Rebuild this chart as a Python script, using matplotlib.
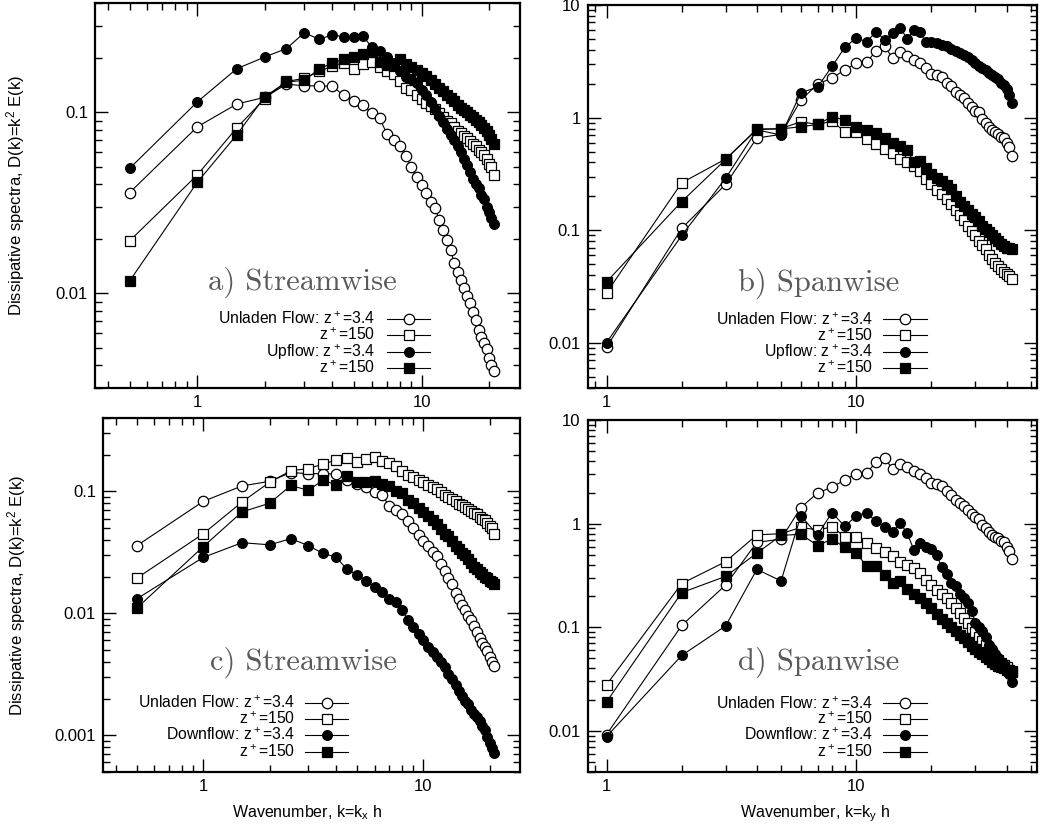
import numpy as np
import matplotlib
matplotlib.use('Agg')
import matplotlib.pyplot as plt
from matplotlib.ticker import LogLocator, FuncFormatter, NullFormatter

plt.rcParams['font.family'] = ['Liberation Sans', 'DejaVu Sans']
plt.rcParams['mathtext.default'] = 'regular'

# wavenumbers
kx = [0.5, 1.0, 1.5, 2.0, 2.5, 3.0, 3.5, 4.0, 4.5, 5.0, 5.5, 6.0, 6.5, 7.0,
      7.5, 8.0, 8.5, 9.0, 9.5, 10.0, 10.5, 11.0, 11.5, 12.0, 12.5, 13.0, 13.5,
      14.0, 14.5, 15.0, 15.5, 16.0, 16.5, 17.0, 17.5, 18.0, 18.5, 19.0, 19.5,
      20.0, 20.5, 21.0]
ky = [1, 2, 3, 4, 5, 6, 7, 8, 9, 10, 11, 12, 13, 14, 15, 16, 17, 18, 19, 20,
      21, 22, 23, 24, 25, 26, 27, 28, 29, 30, 31, 32, 33, 34, 35, 36, 37, 38,
      39, 40, 41, 42]

# streamwise spectra
unladen_x_34 = [0.036, 0.083, 0.111, 0.121, 0.143, 0.14, 0.14, 0.139, 0.124, 0.116,
                0.109, 0.099, 0.093, 0.076, 0.07, 0.065, 0.057, 0.05, 0.044, 0.0395,
                0.0357, 0.0318, 0.0295, 0.0253, 0.0223, 0.0196, 0.0173, 0.0146, 0.0131, 0.0118,
                0.0107, 0.0096, 0.0088, 0.0079, 0.0071, 0.0063, 0.0057, 0.0053, 0.0049, 0.0044,
                0.0040, 0.0037]
unladen_x_150 = [0.0195, 0.045, 0.082, 0.119, 0.148, 0.154, 0.168, 0.18, 0.188, 0.174,
                 0.184, 0.19, 0.178, 0.17, 0.162, 0.148, 0.137, 0.132, 0.125, 0.119,
                 0.113, 0.108, 0.104, 0.099, 0.094, 0.09, 0.087, 0.083, 0.079, 0.077,
                 0.074, 0.072, 0.069, 0.067, 0.065, 0.062, 0.06, 0.058, 0.055, 0.052,
                 0.05, 0.045]
up_x_34 = [0.049, 0.114, 0.174, 0.202, 0.225, 0.275, 0.253, 0.268, 0.261, 0.261,
           0.263, 0.228, 0.219, 0.201, 0.186, 0.168, 0.157, 0.152, 0.145, 0.133,
           0.124, 0.114, 0.104, 0.095, 0.088, 0.081, 0.075, 0.07, 0.065, 0.06,
           0.055, 0.051, 0.047, 0.043, 0.04, 0.038, 0.035, 0.033, 0.03, 0.028,
           0.026, 0.024]
up_x_150 = [0.0117, 0.041, 0.075, 0.122, 0.147, 0.15, 0.174, 0.187, 0.196, 0.202,
            0.21, 0.215, 0.19, 0.183, 0.18, 0.198, 0.185, 0.178, 0.172, 0.165,
            0.158, 0.15, 0.143, 0.137, 0.131, 0.125, 0.12, 0.115, 0.11, 0.106,
            0.103, 0.1, 0.097, 0.094, 0.091, 0.088, 0.085, 0.082, 0.079, 0.075,
            0.071, 0.067]
down_x_34 = [0.0132, 0.0288, 0.038, 0.0365, 0.041, 0.036, 0.031, 0.029, 0.023, 0.0206,
             0.0185, 0.0165, 0.015, 0.0132, 0.0123, 0.0106, 0.0089, 0.0077, 0.0068, 0.006,
             0.0053, 0.0048, 0.0044, 0.004, 0.0036, 0.0032, 0.0029, 0.0026, 0.0023, 0.0021,
             0.0019, 0.0018, 0.0016, 0.0015, 0.0014, 0.0013, 0.0012, 0.0011, 0.00097, 0.00087,
             0.00079, 0.00072]
down_x_150 = [0.0111, 0.0353, 0.068, 0.08, 0.112, 0.102, 0.124, 0.113, 0.133, 0.119,
              0.12, 0.121, 0.115, 0.11, 0.1, 0.097, 0.085, 0.08, 0.073, 0.068,
              0.063, 0.058, 0.054, 0.049, 0.045, 0.043, 0.039, 0.036, 0.034, 0.031,
              0.03, 0.028, 0.026, 0.024, 0.023, 0.022, 0.021, 0.02, 0.0195, 0.0185,
              0.018, 0.0175]

# spanwise spectra
unladen_y_34 = [0.0092, 0.104, 0.256, 0.66, 0.71, 1.43, 1.98, 2.25, 2.65, 3.05,
                3.1, 3.9, 4.3, 3.35, 3.8, 3.55, 3.25, 3.05, 2.75, 2.45,
                2.4, 2.3, 2.05, 1.9, 1.7, 1.6, 1.48, 1.35, 1.25, 1.15,
                1.12, 0.98, 0.9, 0.83, 0.78, 0.74, 0.72, 0.68, 0.66, 0.6,
                0.55, 0.46]
unladen_y_150 = [0.0279, 0.264, 0.43, 0.78, 0.8, 0.92, 0.87, 0.93, 0.75, 0.74,
                 0.65, 0.58, 0.53, 0.485, 0.43, 0.40, 0.375, 0.335, 0.285, 0.257,
                 0.23, 0.21, 0.19, 0.17, 0.153, 0.137, 0.123, 0.11, 0.099, 0.09,
                 0.081, 0.074, 0.068, 0.061, 0.056, 0.051, 0.048, 0.045, 0.043, 0.041,
                 0.039, 0.037]
up_y_34 = [0.0101, 0.09, 0.29, 0.78, 0.70, 1.66, 1.87, 2.85, 4.2, 5.1,
           4.7, 5.8, 4.9, 5.6, 6.3, 5.0, 6.0, 5.7, 4.66, 4.65,
           4.55, 4.45, 4.3, 4.1, 3.9, 3.75, 3.6, 3.45, 3.25, 3.05,
           2.85, 2.75, 2.65, 2.5, 2.4, 2.3, 2.2, 2.05, 1.95, 1.8,
           1.6, 1.36]
up_y_150 = [0.0349, 0.18, 0.425, 0.795, 0.795, 0.83, 0.87, 1.02, 0.953, 0.83,
            0.78, 0.73, 0.66, 0.6, 0.56, 0.52, 0.4, 0.41, 0.36, 0.315,
            0.29, 0.275, 0.255, 0.235, 0.2, 0.18, 0.165, 0.152, 0.14, 0.13,
            0.12, 0.11, 0.103, 0.097, 0.09, 0.085, 0.08, 0.076, 0.073, 0.07,
            0.069, 0.068]
down_y_34 = [0.0088, 0.0534, 0.103, 0.362, 0.28, 1.19, 0.78, 1.28, 0.94, 1.19,
             1.28, 1.05, 0.93, 0.84, 1.01, 0.81, 0.56, 0.65, 0.6, 0.57,
             0.5, 0.38, 0.33, 0.27, 0.25, 0.21, 0.19, 0.17, 0.145, 0.11,
             0.1, 0.092, 0.08, 0.068, 0.062, 0.055, 0.05, 0.046, 0.043, 0.039,
             0.035, 0.0297]
down_y_150 = [0.019, 0.216, 0.31, 0.52, 0.77, 0.79, 0.615, 0.71, 0.59, 0.52,
              0.39, 0.39, 0.32, 0.27, 0.28, 0.235, 0.21, 0.19, 0.17, 0.152,
              0.135, 0.12, 0.11, 0.1, 0.092, 0.085, 0.078, 0.072, 0.066, 0.062,
              0.058, 0.055, 0.052, 0.049, 0.046, 0.044, 0.042, 0.041, 0.04, 0.039,
              0.038, 0.038]

lab_un34 = 'Unladen Flow: z$^+$=3.4'
lab_150 = 'z$^+$=150'
ylab = 'Dissipative spectra, D(k)=k$^2$ E(k)'

# marker styles: open circle, open square, filled circle, filled square
styles = [dict(marker='o', ms=7.5, mfc='white'),
          dict(marker='s', ms=6.8, mfc='white'),
          dict(marker='o', ms=7.0, mfc='black'),
          dict(marker='s', ms=7.0, mfc='black')]


def fmt(v, p):
    return '%g' % v


def setup(ax, xlim, ylim):
    ax.set_xscale('log')
    ax.set_yscale('log')
    ax.set_xlim(xlim)
    ax.set_ylim(ylim)
    for a in (ax.xaxis, ax.yaxis):
        a.set_major_locator(LogLocator(base=10, numticks=10))
        a.set_minor_locator(LogLocator(base=10, subs=np.arange(2, 10), numticks=20))
        a.set_major_formatter(FuncFormatter(fmt))
        a.set_minor_formatter(NullFormatter())
    ax.tick_params(which='both', direction='in', top=True, right=True,
                   labelsize=12, width=1)
    ax.tick_params(which='major', length=9.5, pad=5)
    ax.tick_params(which='minor', length=5)
    for s in ax.spines.values():
        s.set_linewidth(1.6)


def draw(ax, k, series):
    for y, st in zip(series, styles):
        ax.plot(k, y, color='black', lw=0.8, mec='black', mew=0.9, **st)


def legend(ax, labels, xt, xl0, xl1, ys):
    for lab, st, y in zip(labels, styles, ys):
        ax.text(xt, y, lab, transform=ax.transAxes, ha='right', va='center',
                fontsize=11.3)
        ax.plot([xl0, xl1], [y, y], transform=ax.transAxes, color='black',
                lw=0.8, clip_on=False)
        ax.plot([(xl0 + xl1) / 2], [y], transform=ax.transAxes, color='black',
                mec='black', mew=0.9, clip_on=False, **st)


fig = plt.figure(figsize=(10.55, 8.27), dpi=100)
ax_a = fig.add_axes([0.090, 0.531, 0.403, 0.465])
ax_b = fig.add_axes([0.557, 0.531, 0.426, 0.463])
ax_c = fig.add_axes([0.0976, 0.0665, 0.3954, 0.428])
ax_d = fig.add_axes([0.557, 0.0665, 0.426, 0.4255])

xlim_s = (0.35, 27.5)
xlim_p = (0.84, 53)
title_kw = dict(ha='center', va='center', fontsize=22, family='cmr10', color='#5a5a5a')

# a) streamwise, upflow
setup(ax_a, xlim_s, (0.003, 0.4))
draw(ax_a, kx, [unladen_x_34, unladen_x_150, up_x_34, up_x_150])
ax_a.set_ylabel(ylab, fontsize=12)
ax_a.yaxis.set_label_coords(-0.16, 0.5)
ax_a.text(0.489, 0.273, 'a) Streamwise', transform=ax_a.transAxes, **title_kw)
legend(ax_a, [lab_un34, lab_150, 'Upflow: z$^+$=3.4', lab_150],
       0.659, 0.687, 0.788, [0.179, 0.137, 0.094, 0.052])

# b) spanwise, upflow
setup(ax_b, xlim_p, (0.004, 10))
draw(ax_b, ky, [unladen_y_34, unladen_y_150, up_y_34, up_y_150])
ax_b.text(0.514, 0.274, 'b) Spanwise', transform=ax_b.transAxes, **title_kw)
legend(ax_b, [lab_un34, lab_150, 'Upflow: z$^+$=3.4', lab_150],
       0.635, 0.657, 0.755, [0.179, 0.137, 0.094, 0.052])

# c) streamwise, downflow
setup(ax_c, xlim_s, (0.0005, 0.4))
draw(ax_c, kx, [unladen_x_34, unladen_x_150, down_x_34, down_x_150])
ax_c.set_ylabel(ylab, fontsize=12)
ax_c.yaxis.set_label_coords(-0.18, 0.5)
ax_c.set_xlabel('Wavenumber, k=k$_x$ h', fontsize=11.5)
ax_c.xaxis.set_label_coords(0.49, -0.088)
ax_c.text(0.48, 0.311, 'c) Streamwise', transform=ax_c.transAxes, **title_kw)
legend(ax_c, [lab_un34, lab_150, 'Downflow: z$^+$=3.4', lab_150],
       0.46, 0.484, 0.588, [0.195, 0.150, 0.105, 0.056])

# d) spanwise, downflow
setup(ax_d, xlim_p, (0.004, 10))
draw(ax_d, ky, [unladen_y_34, unladen_y_150, down_y_34, down_y_150])
ax_d.set_xlabel('Wavenumber, k=k$_y$ h', fontsize=11.5)
ax_d.xaxis.set_label_coords(0.505, -0.088)
ax_d.text(0.514, 0.312, 'd) Spanwise', transform=ax_d.transAxes, **title_kw)
legend(ax_d, [lab_un34, lab_150, 'Downflow: z$^+$=3.4', lab_150],
       0.635, 0.657, 0.755, [0.195, 0.151, 0.106, 0.057])

fig.savefig('out.png', dpi=100)
